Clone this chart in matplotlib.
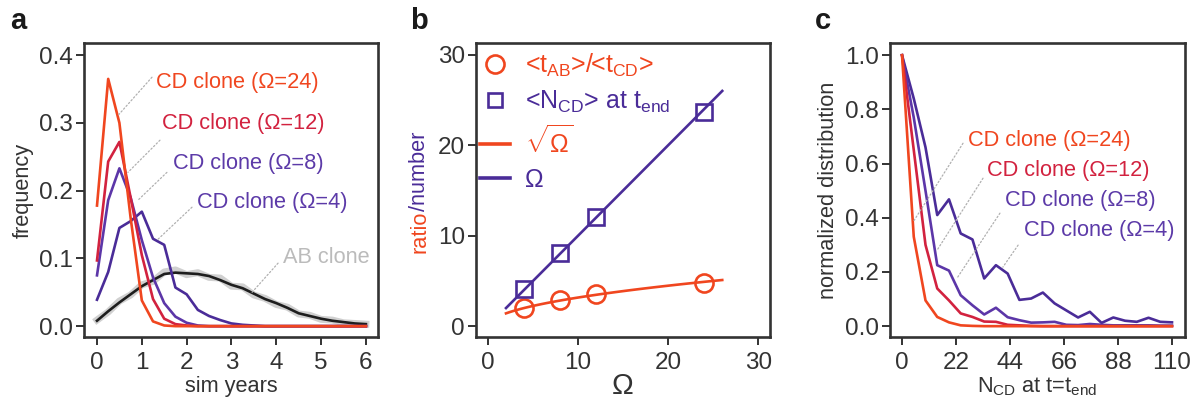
import matplotlib
matplotlib.use('Agg')
import matplotlib.pyplot as plt
import numpy as np
from matplotlib.lines import Line2D

plt.rcParams['font.family'] = ['Liberation Sans', 'DejaVu Sans']
plt.rcParams['mathtext.fontset'] = 'custom'
plt.rcParams['mathtext.rm'] = 'Liberation Sans'
plt.rcParams['mathtext.it'] = 'Liberation Sans:italic'
plt.rcParams['mathtext.default'] = 'regular'

# ---------------- data ----------------
# panel a
years = [0, 0.25, 0.5, 0.75, 1.0, 1.25, 1.5, 1.75, 2.0, 2.25, 2.5, 2.75, 3.0,
         3.25, 3.5, 3.75, 4.0, 4.25, 4.5, 4.75, 5.0, 5.25, 5.5, 5.75, 6.0]
freq_cd24 = [0.178, 0.365, 0.300, 0.160, 0.038, 0.007, 0.001, 0, 0, 0, 0, 0, 0,
             0, 0, 0, 0, 0, 0, 0, 0, 0, 0, 0, 0]
freq_cd12 = [0.097, 0.243, 0.272, 0.190, 0.105, 0.040, 0.011, 0.003, 0.001, 0, 0, 0, 0,
             0, 0, 0, 0, 0, 0, 0, 0, 0, 0, 0, 0]
freq_cd8 = [0.075, 0.186, 0.233, 0.190, 0.127, 0.072, 0.034, 0.014, 0.005, 0.001, 0, 0, 0,
            0, 0, 0, 0, 0, 0, 0, 0, 0, 0, 0, 0]
freq_cd4 = [0.039, 0.080, 0.145, 0.155, 0.169, 0.129, 0.120, 0.057, 0.047, 0.024, 0.015, 0.009, 0.004,
            0.002, 0.001, 0, 0, 0, 0, 0, 0, 0, 0, 0, 0]
freq_ab = [0.008, 0.022, 0.035, 0.047, 0.059, 0.068, 0.077, 0.079, 0.078, 0.077, 0.074, 0.068, 0.061,
           0.056, 0.048, 0.040, 0.034, 0.027, 0.019, 0.015, 0.011, 0.008, 0.006, 0.004, 0.003]
freq_ab_raw = [0.009, 0.021, 0.037, 0.046, 0.061, 0.066, 0.080, 0.083, 0.076, 0.079, 0.072, 0.071, 0.059,
               0.058, 0.046, 0.041, 0.032, 0.028, 0.018, 0.016, 0.010, 0.009, 0.005, 0.004, 0.003]

# panel b
omega = [4, 8, 12, 24]
ratio_t = [1.96, 2.88, 3.54, 4.72]
n_cd_end = [4.06, 8.04, 12.03, 23.65]
omega_fit = np.linspace(2, 26, 60)

# panel c
n_cd = np.linspace(0, 110, 24)
dist_cd24 = [1.0, 0.33, 0.095, 0.034, 0.014, 0.003, 0.001, 0, 0, 0, 0, 0,
             0, 0, 0, 0, 0, 0, 0, 0, 0, 0, 0, 0]
dist_cd12 = [1.0, 0.65, 0.30, 0.139, 0.095, 0.047, 0.034, 0.017, 0.016, 0.005, 0.003, 0.001,
             0, 0, 0, 0, 0, 0, 0, 0, 0, 0, 0, 0]
dist_cd8 = [1.0, 0.77, 0.50, 0.225, 0.205, 0.114, 0.077, 0.043, 0.068, 0.033, 0.022, 0.013,
            0.014, 0.016, 0.005, 0.004, 0.008, 0.005, 0.003, 0.003, 0.003, 0.003, 0.002, 0.002]
dist_cd4 = [1.0, 0.84, 0.66, 0.41, 0.468, 0.342, 0.32, 0.176, 0.225, 0.194, 0.097, 0.102,
            0.124, 0.084, 0.058, 0.032, 0.053, 0.012, 0.032, 0.020, 0.016, 0.031, 0.016, 0.014]

labels_cd = ['CD clone (Ω=24)', 'CD clone (Ω=12)', 'CD clone (Ω=8)', 'CD clone (Ω=4)']

# ---------------- style ----------------
C24 = '#f0461f'
C12 = '#d2223f'
C8 = '#5c36a8'
C4 = '#4a2c98'
T8 = '#5c3aa8'
SPINE = '#333333'
LW = 1.9
FS_TICK = 17.5
FS_TXT = 15.7

fig = plt.figure(figsize=(11.95, 4.01), dpi=100)
H = 401.0
W = 1195.0

def mkax(x0, x1, y0=43, y1=337):
    return fig.add_axes([x0 / W, 1 - y1 / H, (x1 - x0) / W, (y1 - y0) / H])

def style(ax):
    for s in ax.spines.values():
        s.set_color(SPINE)
        s.set_linewidth(1.9)
    ax.tick_params(direction='out', length=6, width=1.4, color=SPINE,
                   labelsize=FS_TICK, labelcolor='#333333', pad=2)
    ax.tick_params(axis='x', pad=5)

def leader(ax, xy, xyt):
    ax.annotate('', xy=xy, xytext=xyt,
                arrowprops=dict(arrowstyle='-', linestyle=(0, (1.2, 1.8)), color='#b0b0b0',
                                lw=0.9, shrinkA=0, shrinkB=0))

# ---------- panel a ----------
axa = mkax(84, 378)
style(axa)
axa.plot(years, freq_ab_raw, color='#d0d0d0', lw=5, solid_joinstyle='round', zorder=1)
axa.plot(years, freq_ab, color='#1e1e1e', lw=LW, zorder=2)
axa.plot(years, freq_cd4, color=C4, lw=LW, zorder=3)
axa.plot(years, freq_cd8, color=C8, lw=LW, zorder=3)
axa.plot(years, freq_cd12, color=C12, lw=LW, zorder=3)
axa.plot(years, freq_cd24, color=C24, lw=LW, zorder=3)
axa.set_xlim(-0.29, 6.27)
axa.set_ylim(-0.016, 0.418)
axa.set_xticks(range(0, 7))
axa.set_yticks([0.0, 0.1, 0.2, 0.3, 0.4])
axa.set_yticklabels(['0.0', '0.1', '0.2', '0.3', '0.4'])
axa.set_xlabel('sim years', fontsize=FS_TXT, color='#333333', labelpad=1)
axa.set_ylabel('frequency', fontsize=FS_TXT, color='#333333', labelpad=4)

txt_a = [(1.316, 0.360, C24), (1.45, 0.2996, C12), (1.695, 0.2406, T8), (2.23, 0.183, T8)]
lead_a = [((0.468, 0.311), (1.227, 0.3675)), ((0.69, 0.227), (1.405, 0.2745)),
          ((0.915, 0.186), (1.56, 0.227)), ((1.34, 0.127), (2.12, 0.1756))]
for (x, y, c), lab, (p, q) in zip(txt_a, labels_cd, lead_a):
    axa.text(x, y, lab, color=c, fontsize=FS_TXT, va='center', ha='left')
    leader(axa, p, q)
axa.text(4.15, 0.102, 'AB clone', color='#bbbbbb', fontsize=FS_TXT, va='center', ha='left')
leader(axa, (3.46, 0.050), (4.04, 0.093))

# ---------- panel b ----------
CR = '#f0461f'
CP = '#4a2c98'
axb = mkax(476, 770)
style(axb)
axb.plot(omega_fit, np.sqrt(omega_fit), color=CR, lw=LW, zorder=2)
axb.plot(omega_fit, omega_fit, color=CP, lw=LW, zorder=2)
axb.plot(omega, ratio_t, 'o', ms=13, mfc='none', mec=CR, mew=1.9, zorder=3)
axb.plot(omega, n_cd_end, 's', ms=11, mfc='none', mec=CP, mew=1.9, zorder=3)
axb.set_xlim(-1.33, 31.3)
axb.set_ylim(-1.2, 31.3)
axb.set_xticks([0, 10, 20, 30])
axb.set_yticks([0, 10, 20, 30])
axb.set_xlabel('Ω', fontsize=21, color='#333333', labelpad=-2)

handles = [Line2D([], [], ls='none', marker='o', ms=13, mfc='none', mec=CR, mew=1.9),
           Line2D([], [], ls='none', marker='s', ms=10, mfc='none', mec=CP, mew=1.9),
           Line2D([], [], color=CR, lw=2.6),
           Line2D([], [], color=CP, lw=2.6)]
leg_labels = [r'<t$_\mathregular{AB}$>/<t$_\mathregular{CD}$>',
              r'<N$_\mathregular{CD}$> at t$_\mathregular{end}$',
              r'$\sqrt{\Omega}$', 'Ω']
leg = axb.legend(handles, leg_labels, loc='upper left', bbox_to_anchor=(-0.045, 1.03),
                 frameon=False, fontsize=18, handlelength=1.2, handletextpad=0.6,
                 labelspacing=0.4, borderaxespad=0.3,
                 labelcolor=[CR, CP, CR, CP])

# ---------- panel c ----------
axc = mkax(890, 1185)
style(axc)
axc.plot(n_cd, dist_cd4, color=C4, lw=LW, zorder=3)
axc.plot(n_cd, dist_cd8, color=C8, lw=LW, zorder=3)
axc.plot(n_cd, dist_cd12, color=C12, lw=LW, zorder=3)
axc.plot(n_cd, dist_cd24, color=C24, lw=LW, zorder=3)
axc.set_xlim(-4.9, 115.3)
axc.set_ylim(-0.04, 1.045)
axc.set_xticks([0, 22, 44, 66, 88, 110])
axc.set_yticks([0.0, 0.2, 0.4, 0.6, 0.8, 1.0])
axc.set_yticklabels(['0.0', '0.2', '0.4', '0.6', '0.8', '1.0'])
axc.set_xlabel(r'N$_\mathregular{CD}$ at t=t$_\mathregular{end}$', fontsize=FS_TXT, color='#333333', labelpad=1)
axc.set_ylabel('normalized distribution', fontsize=FS_TXT, color='#333333', labelpad=4)

txt_c = [(26.9, 0.686, C24), (34.6, 0.576, C12), (42.0, 0.465, T8), (49.7, 0.354, T8)]
lead_c = [((4.48, 0.384), (24.85, 0.675)), ((14.26, 0.28), (33.0, 0.546)),
          ((22.4, 0.177), (39.9, 0.417)), ((41.1, 0.218), (47.3, 0.299))]
for (x, y, c), lab, (p, q) in zip(txt_c, labels_cd, lead_c):
    axc.text(x, y, lab, color=c, fontsize=FS_TXT, va='center', ha='left')
    leader(axc, p, q)

# panel letters
for x, l in [(10, 'a'), (410, 'b'), (815, 'c')]:
    fig.text(x / W, 1 - 21 / H, l, fontsize=21, fontweight='bold', va='center', ha='left', color='#1a1a1a')

# two-coloured y label for panel b
t1 = fig.text(420 / W, 1 - 253 / H, 'ratio', rotation=90, color=CR, fontsize=FS_TXT,
              ha='center', va='bottom')
fig.canvas.draw()
bb = t1.get_window_extent(renderer=fig.canvas.get_renderer())
fig.text(420 / W, bb.y1 / fig.bbox.height, '/number', rotation=90, color=CP, fontsize=FS_TXT,
         ha='center', va='bottom')

fig.savefig('out.png', dpi=100)
